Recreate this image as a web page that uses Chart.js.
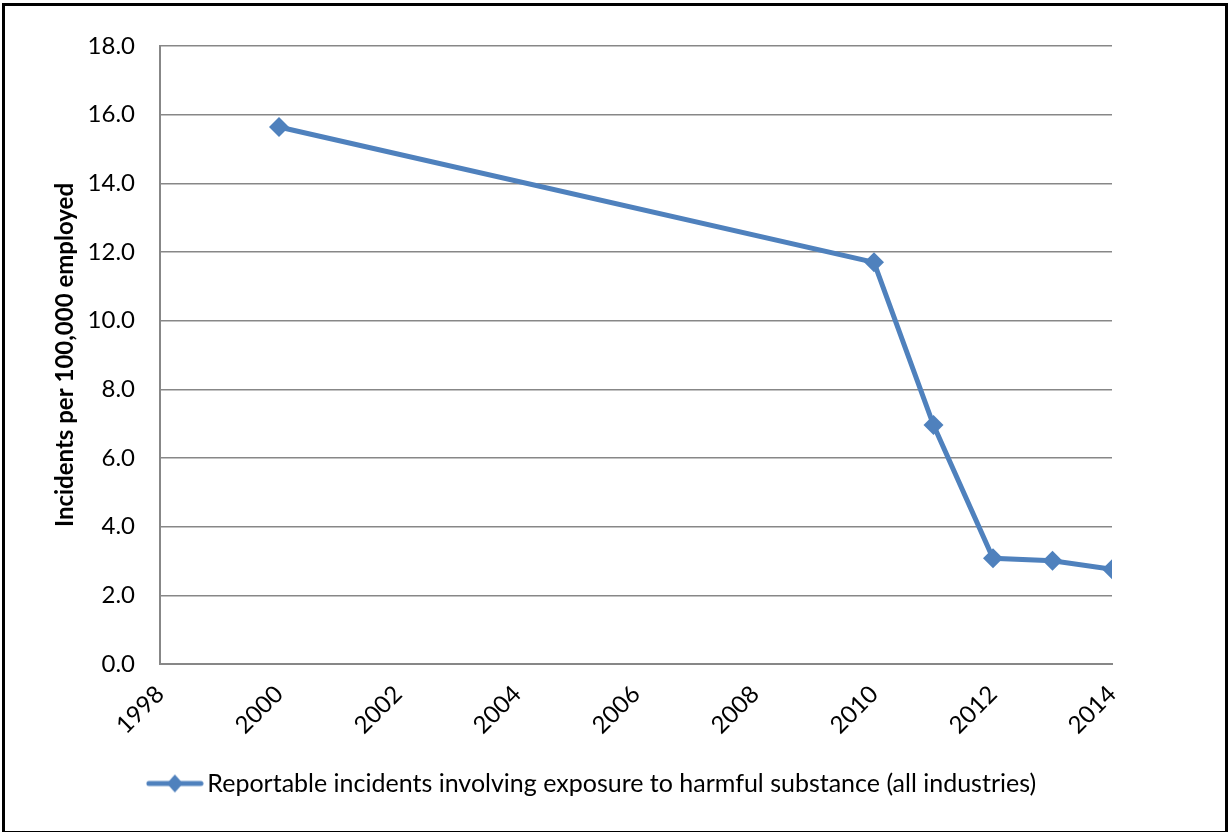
<!DOCTYPE html>
<html>
<head>
<meta charset="utf-8">
<title>Reportable incidents involving exposure to harmful substance</title>
<script src="https://cdn.jsdelivr.net/npm/chart.js@4/dist/chart.umd.min.js"></script>
<style>
  html, body { margin: 0; padding: 0; background: #fff; }
  #wrap { width: 1228px; height: 832px; position: relative; }
</style>
</head>
<body>
<div id="wrap"><canvas id="chart" width="1228" height="832"></canvas></div>
<script>
// Incident rate per 100,000 employed, by year
const years = [2000, 2010, 2011, 2012, 2013, 2014];
const rates = [15.64, 11.70, 6.96, 3.08, 3.01, 2.76];
const seriesLabel = 'Reportable incidents involving exposure to harmful substance (all industries)';
const yAxisTitle = 'Incidents per 100,000 employed';
const yearTicks = [1998, 2000, 2002, 2004, 2006, 2008, 2010, 2012, 2014];
const rateTicks = [0, 2, 4, 6, 8, 10, 12, 14, 16, 18];

const blue = '#4F81BD';
const gridGrey = '#878787';
const fontFamily = 'Lato, "Open Sans", sans-serif';

// Legend swatch: a short line with a diamond in the middle
const swatch = document.createElement('canvas');
swatch.width = 58; swatch.height = 22;
(function () {
  const g = swatch.getContext('2d');
  g.strokeStyle = blue; g.lineWidth = 5; g.lineCap = 'round';
  g.beginPath(); g.moveTo(3, 11); g.lineTo(55, 11); g.stroke();
  g.fillStyle = blue;
  g.beginPath(); g.moveTo(29, 2); g.lineTo(37, 11); g.lineTo(29, 20); g.lineTo(21, 11); g.closePath(); g.fill();
})();

// White page with a black frame
const framePlugin = {
  id: 'frame',
  beforeDraw(chart) {
    const c = chart.ctx;
    c.save(); c.fillStyle = '#fff'; c.fillRect(0, 0, chart.width, chart.height); c.restore();
  },
  afterDraw(chart) {
    const c = chart.ctx;
    c.save(); c.strokeStyle = '#000'; c.lineWidth = 3;
    c.strokeRect(3.5, 4.5, chart.width - 5, chart.height - 4);
    c.restore();
  }
};

new Chart(document.getElementById('chart'), {
  type: 'line',
  data: {
    datasets: [{
      label: seriesLabel,
      data: years.map((y, i) => ({ x: y, y: rates[i] })),
      borderColor: blue,
      backgroundColor: blue,
      borderWidth: 5,
      pointStyle: 'rectRot',
      pointRadius: 10,
      pointHoverRadius: 10,
      pointBorderWidth: 0,
      tension: 0,
      fill: false
    }]
  },
  options: {
    responsive: false,
    animation: false,
    events: [],
    layout: { padding: { top: 46, right: 37, bottom: 26, left: 0 } },
    plugins: {
      tooltip: { enabled: false },
      legend: {
        position: 'bottom',
        labels: {
          usePointStyle: true,
          pointStyleWidth: 40,
          boxHeight: 22,
          padding: 10,
          color: '#000',
          font: { family: fontFamily, size: 25 },
          generateLabels(chart) {
            return chart.data.datasets.map((ds, i) => ({
              text: ds.label,
              pointStyle: swatch,
              fillStyle: ds.backgroundColor,
              strokeStyle: ds.borderColor,
              lineWidth: 0,
              hidden: false,
              datasetIndex: i
            }));
          }
        }
      }
    },
    scales: {
      x: {
        type: 'linear',
        min: yearTicks[0],
        max: yearTicks[yearTicks.length - 1],
        afterBuildTicks(scale) { scale.ticks = yearTicks.map(v => ({ value: v })); },
        afterFit(scale) { scale.height = 97; },
        grid: { display: false, drawTicks: false },
        border: { display: true, color: gridGrey, width: 2 },
        ticks: {
          color: '#000',
          font: { family: fontFamily, size: 24 },
          minRotation: 45,
          maxRotation: 45,
          padding: 16,
          callback: v => String(v)
        }
      },
      y: {
        min: 0,
        max: 18,
        afterBuildTicks(scale) { scale.ticks = rateTicks.map(v => ({ value: v })); },
        afterFit(scale) { scale.width = 160; },
        grid: { color: gridGrey, lineWidth: 1.6, drawTicks: false },
        border: { display: true, color: gridGrey, width: 2 },
        ticks: {
          color: '#000',
          font: { family: fontFamily, size: 24 },
          padding: 25,
          callback: v => v.toFixed(1)
        },
        title: {
          display: true,
          text: yAxisTitle,
          color: '#000',
          font: { family: fontFamily, size: 24, weight: 'bold' },
          padding: { top: 51, bottom: 0 }
        }
      },
      // empty right-hand gutter beside the plot
      gutter: {
        position: 'right',
        display: true,
        afterFit(scale) { scale.width = 79; },
        grid: { display: false, drawTicks: false },
        border: { display: false },
        ticks: { display: false }
      }
    }
  },
  plugins: [framePlugin]
});
</script>
</body>
</html>
